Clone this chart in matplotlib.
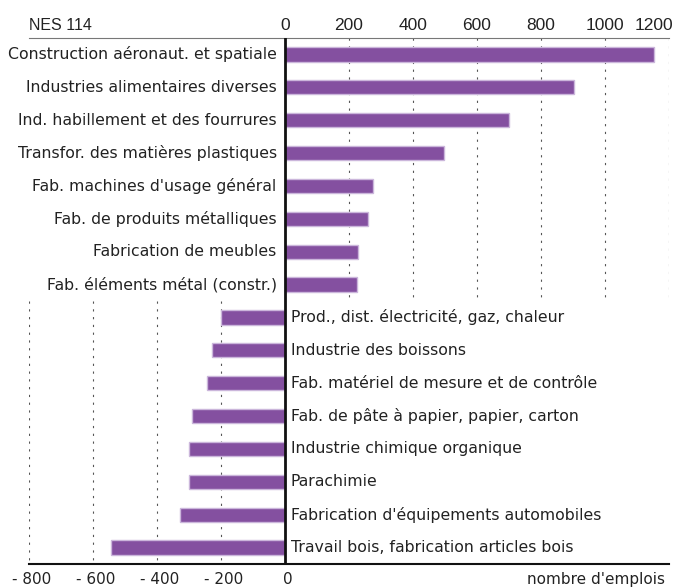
import matplotlib.pyplot as plt

# secteurs en hausse (haut) et en baisse (bas)
gain_labels = ["Construction aéronaut. et spatiale", "Industries alimentaires diverses",
               "Ind. habillement et des fourrures", "Transfor. des matières plastiques",
               "Fab. machines d'usage général", "Fab. de produits métalliques",
               "Fabrication de meubles", "Fab. éléments métal (constr.)"]
gain_values = [1153, 902, 700, 498, 276, 258, 229, 226]

loss_labels = ["Prod., dist. électricité, gaz, chaleur", "Industrie des boissons",
               "Fab. matériel de mesure et de contrôle", "Fab. de pâte à papier, papier, carton",
               "Industrie chimique organique", "Parachimie",
               "Fabrication d'équipements automobiles", "Travail bois, fabrication articles bois"]
loss_values = [-201, -227, -245, -290, -299, -299, -328, -545]

top_ticks = [0, 200, 400, 600, 800, 1000, 1200]
bottom_ticks = [-800, -600, -400, -200, 0]

bar_color = "#8450a0"
edge_color = "#cbb6db"

fig = plt.figure(figsize=(6.78, 5.88), dpi=100)
ax = fig.add_axes([29 / 678, 1 - 564 / 588, 640 / 678, 526 / 588])
ax.set_xlim(-800, 1200)
ax.set_ylim(16, 0)

n = len(gain_values)
ypos_gain = [i + 0.5 for i in range(n)]
ypos_loss = [n + i + 0.5 for i in range(len(loss_values))]

# grille pointillée
for t in top_ticks[1:]:
    ax.plot([t, t], [0, n], color="#555555", lw=0.8, ls=(0, (2, 5)), zorder=0)
for t in bottom_ticks[:-1]:
    ax.plot([t, t], [n, 2 * n], color="#555555", lw=0.8, ls=(0, (2, 5)), zorder=0)

ax.barh(ypos_gain, gain_values, height=0.43, color=bar_color, edgecolor=edge_color, lw=1, zorder=2)
ax.barh(ypos_loss, loss_values, height=0.43, color=bar_color, edgecolor=edge_color, lw=1, zorder=2)

ax.axvline(0, color="#111111", lw=2, zorder=3)

for y, lab in zip(ypos_gain, gain_labels):
    ax.annotate(lab, (0, y), xytext=(-6, 0), textcoords="offset points",
                ha="right", va="center", fontsize=11.3, color="#222222")
for y, lab in zip(ypos_loss, loss_labels):
    ax.annotate(lab, (0, y), xytext=(4, 0), textcoords="offset points",
                ha="left", va="center", fontsize=11.3, color="#222222")

# graduations
for t in top_ticks:
    ha = "right" if t == top_ticks[-1] else "center"
    dx = 3 if t == top_ticks[-1] else 0
    ax.annotate(str(t), (t, 0), xytext=(dx, 6), textcoords="offset points",
                ha=ha, va="baseline", fontsize=12.5, family="Liberation Sans", color="#222222")
for t in bottom_ticks:
    lab = "0" if t == 0 else "- " + str(-t)
    ax.annotate(lab, (t, 16), xytext=(2, -16.3), textcoords="offset points",
                ha="center", va="bottom", fontsize=11, color="#222222")

ax.annotate("NES 114", (-800, 0), xytext=(0, 6), textcoords="offset points",
            ha="left", va="baseline", fontsize=11.5, family="Liberation Sans", color="#222222")
ax.annotate("nombre d'emplois", (1200, 16), xytext=(-3, -16.3), textcoords="offset points",
            ha="right", va="bottom", fontsize=11, color="#222222")

ax.set_xticks([])
ax.set_yticks([])
for s in ["left", "right"]:
    ax.spines[s].set_visible(False)
ax.spines["top"].set_color("#777777")
ax.spines["top"].set_linewidth(0.8)
ax.spines["bottom"].set_color("#111111")
ax.spines["bottom"].set_linewidth(1.5)

fig.savefig("out.png", dpi=100)
